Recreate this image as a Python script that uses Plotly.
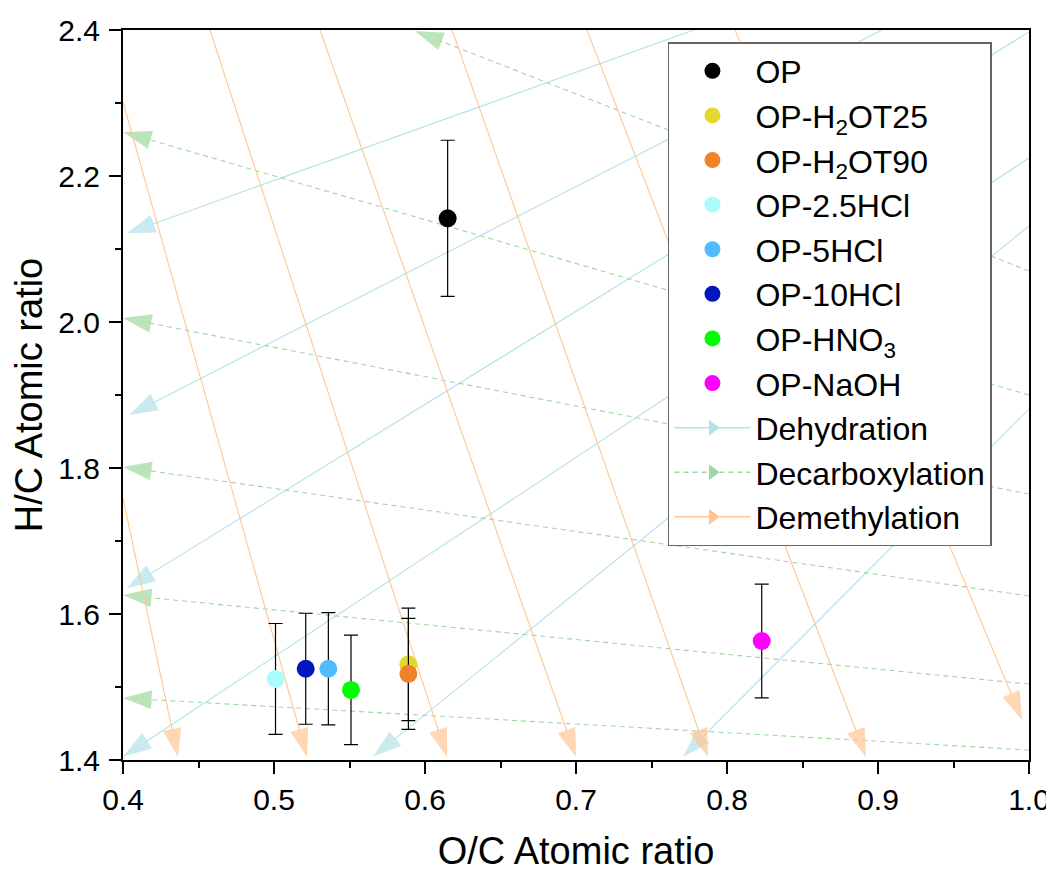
import plotly.graph_objects as go

# ---------------- data ----------------
names = ["OP", "OP-H<sub>2</sub>OT25", "OP-H<sub>2</sub>OT90", "OP-2.5HCl",
         "OP-5HCl", "OP-10HCl", "OP-HNO<sub>3</sub>", "OP-NaOH"]
oc = [0.615, 0.589, 0.589, 0.501, 0.536, 0.521, 0.551, 0.823]
hc = [2.142, 1.531, 1.518, 1.511, 1.525, 1.525, 1.496, 1.563]
hc_err = [0.107, 0.077, 0.076, 0.076, 0.077, 0.076, 0.075, 0.078]
colors = ["#000000", "#E3D82E", "#F0822A", "#AAFCFF", "#50BCFF",
          "#0017BE", "#00FF00", "#FF00FF"]

# reaction pathway lines: tail (x0, y0) -> arrow tip (x1, y1)
dehyd_x0 = [0.7781, 0.9026, 1.0, 1.0, 1.0, 1.0]
dehyd_y0 = [2.4, 2.4, 2.3973, 2.2247, 2.1315, 1.8808]
dehyd_x1 = [0.4025, 0.4042, 0.4025, 0.4002, 0.5657, 0.7710]
dehyd_y1 = [2.1215, 1.8726, 1.6352, 1.4047, 1.4047, 1.4047]

decarb_x0 = [1.0, 1.0, 1.0, 1.0, 1.0, 1.0]
decarb_y0 = [2.0699, 1.9000, 1.7644, 1.6247, 1.5041, 1.4137]
decarb_x1 = [0.5934, 0.4, 0.4, 0.4, 0.4, 0.4]
decarb_y1 = [2.3986, 2.2603, 2.0055, 1.8014, 1.6260, 1.4849]

demeth_x0 = [0.4, 0.4, 0.4576, 0.5305, 0.6179, 0.7073, 0.8053]
demeth_y0 = [1.7589, 2.3014, 2.4, 2.4, 2.4, 2.4, 2.4]
demeth_x1 = [0.4364, 0.5219, 0.6146, 0.7000, 0.7874, 0.8921, 0.9954]
demeth_y1 = [1.4041, 1.4041, 1.4041, 1.4041, 1.4041, 1.4041, 1.4548]

pathways = [
    ("Dehydration", "#B2E2EA", "solid", dehyd_x0, dehyd_y0, dehyd_x1, dehyd_y1),
    ("Decarboxylation", "#9ED89E", "5px,4px", decarb_x0, decarb_y0, decarb_x1, decarb_y1),
    ("Demethylation", "#FFC692", "solid", demeth_x0, demeth_y0, demeth_x1, demeth_y1),
]

FONT = "Arial, 'Liberation Sans', Helvetica, sans-serif"

fig = go.Figure()

# pathway arrows (drawn under the data points)
for rank, (label, col, dash, xs0, ys0, xs1, ys1) in enumerate(pathways):
    for a, b, c, d in zip(xs0, ys0, xs1, ys1):
        fig.add_trace(go.Scatter(
            x=[a, c], y=[b, d], mode="lines+markers",
            line=dict(color=col, width=1.1, dash=dash),
            marker=dict(symbol=["circle", "arrow"], size=[0, 30], color=col,
                        angleref="previous", line=dict(width=0)),
            showlegend=False, hoverinfo="skip", cliponaxis=False))
    # legend entry
    fig.add_trace(go.Scatter(
        x=[None], y=[None], mode="lines+markers", name=label,
        line=dict(color=col, width=1.5, dash=dash),
        marker=dict(symbol="triangle-right", size=14, color=col),
        legendrank=100 + rank))

# data points with error bars
for i, (n, x, y, e, c) in enumerate(zip(names, oc, hc, hc_err, colors)):
    fig.add_trace(go.Scatter(
        x=[x], y=[y], mode="markers", name=n,
        marker=dict(color=c, size=18, line=dict(width=0)),
        error_y=dict(type="data", array=[e], color="black", thickness=1.2, width=7),
        legendrank=1 + i))

axis_common = dict(
    showline=True, linecolor="black", linewidth=2, mirror=True,
    ticks="outside", ticklen=12, tickwidth=2, tickcolor="black",
    showgrid=False, zeroline=False, automargin=False,
    tickfont=dict(family=FONT, size=30, color="black"),
)

fig.update_xaxes(
    range=[0.4, 1.0], dtick=0.1, tick0=0.4, tickformat=".1f",
    minor=dict(dtick=0.05, ticks="outside", ticklen=6, tickwidth=2, tickcolor="black"),
    title=dict(text="O/C Atomic ratio", font=dict(family=FONT, size=38, color="black"), standoff=30),
    **axis_common)
fig.update_yaxes(
    range=[1.4, 2.4], dtick=0.2, tick0=1.4, tickformat=".1f",
    ticklabelstandoff=3,
    minor=dict(dtick=0.1, ticks="outside", ticklen=6, tickwidth=2, tickcolor="black"),
    title=dict(text="H/C Atomic ratio", font=dict(family=FONT, size=38, color="black"), standoff=8),
    **axis_common)

fig.update_layout(
    width=1046, height=864,
    margin=dict(l=115, r=25, t=22, b=112),
    plot_bgcolor="white", paper_bgcolor="white",
    font=dict(family=FONT, color="black"),
    legend=dict(
        x=0.6015, y=0.9835, xanchor="left", yanchor="top",
        bgcolor="white", bordercolor="#666666", borderwidth=1.5,
        font=dict(family=FONT, size=32, color="black"),
        itemwidth=76, traceorder="normal",
    ),
)

fig.write_html("out.html")
